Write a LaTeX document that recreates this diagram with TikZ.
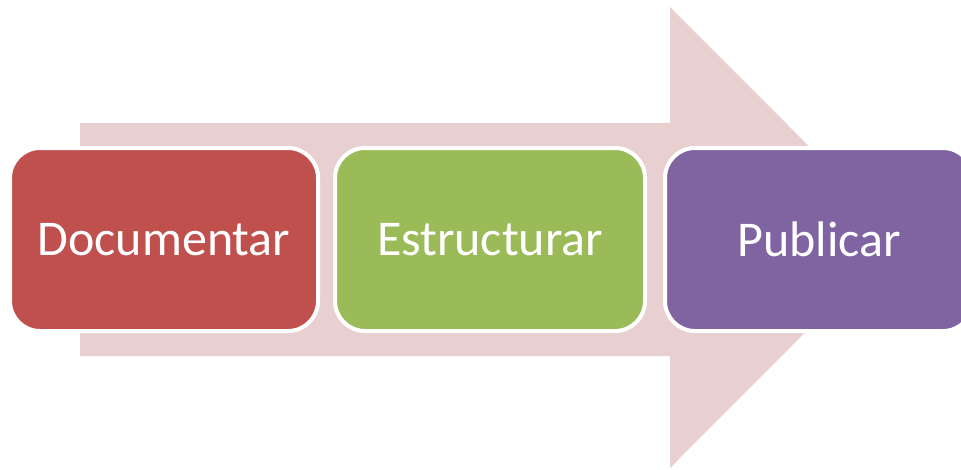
\documentclass[tikz,border=0pt]{standalone}
\usepackage{fontspec}
\setmainfont{Carlito}
\definecolor{arrowpink}{HTML}{E8D0D1}
\definecolor{stepred}{HTML}{C0504D}
\definecolor{stepgreen}{HTML}{9BBB59}
\definecolor{steppurple}{HTML}{8064A2}
\tikzset{
  stepbox/.style={rounded corners=30pt, draw=white, line width=4pt,
    minimum height=183pt, text=white, font=\fontsize{50}{60}\selectfont,
    inner sep=0pt},
}
\begin{document}
\begin{tikzpicture}[x=1pt,y=-1pt]
\useasboundingbox (0,0) rectangle (961,469);
\clip (0,0) rectangle (961,469);
\fill[arrowpink] (80,123) -- (670,123) -- (670,7) -- (900,237.5) -- (670,468) -- (670,356) -- (80,356) -- cycle;
\node[stepbox, fill=stepred, minimum width=308pt] (doc) at (164,239.5) {Documentar};
\node[stepbox, fill=stepgreen, minimum width=310pt] (est) at (490,239.5) {Estructurar};
\node[stepbox, fill=steppurple, minimum width=308pt] (pub) at (819,239.5) {Publicar};
\end{tikzpicture}
\end{document}
